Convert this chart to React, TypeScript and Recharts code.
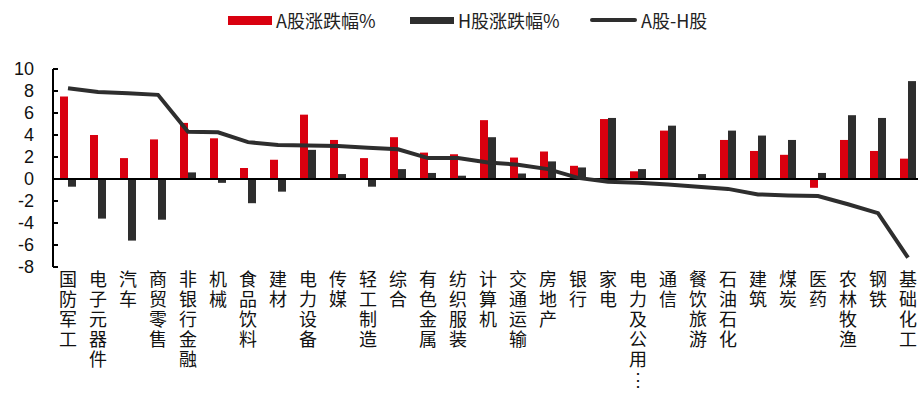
import React from 'react'
import { ComposedChart, Bar, Line, XAxis, YAxis, ReferenceLine } from 'recharts'

// ---------------------------------------------------------------------------
// Data
// ---------------------------------------------------------------------------

const categories = [
  '国防军工', '电子元器件', '汽车', '商贸零售', '非银行金融', '机械', '食品饮料', '建材',
  '电力设备', '传媒', '轻工制造', '综合', '有色金属', '纺织服装', '计算机', '交通运输',
  '房地产', '银行', '家电', '电力及公用…', '通信', '餐饮旅游', '石油石化', '建筑',
  '煤炭', '医药', '农林牧渔', '钢铁', '基础化工',
]

const aShareChange = [
  7.5, 4.0, 1.9, 3.6, 5.1, 3.7, 1.0, 1.75, 5.85, 3.55, 1.9, 3.8, 2.4, 2.25, 5.35,
  1.95, 2.5, 1.2, 5.45, 0.7, 4.4, 0, 3.55, 2.55, 2.2, -0.8, 3.55, 2.55, 1.85,
]

const hShareChange = [
  -0.7, -3.6, -5.6, -3.7, 0.6, -0.35, -2.2, -1.15, 2.65, 0.45, -0.7, 0.9, 0.55, 0.3, 3.8,
  0.5, 1.6, 1.05, 5.55, 0.9, 4.85, 0.45, 4.4, 3.95, 3.55, 0.55, 5.8, 5.55, 8.9,
]

const aMinusH = [
  8.25, 7.9, 7.8, 7.65, 4.3, 4.25, 3.35, 3.1, 3.05, 3.0, 2.85, 2.7, 1.9, 1.9, 1.5,
  1.3, 0.9, 0.1, -0.25, -0.35, -0.5, -0.7, -0.9, -1.4, -1.5, -1.55, -2.3, -3.1, -7.15,
]

const yTicks = [-8, -6, -4, -2, 0, 2, 4, 6, 8, 10]

const seriesNames = ['A股涨跌幅%', 'H股涨跌幅%', 'A股-H股']

const data = categories.map((name, i) => ({
  name,
  a: aShareChange[i],
  h: hShareChange[i],
  diff: aMinusH[i],
}))

// ---------------------------------------------------------------------------
// Styling
// ---------------------------------------------------------------------------

const RED = '#D9000F'
const DARK = '#2E2E2E'
const CJK = '"Noto Sans CJK SC", "Liberation Sans", sans-serif'
const LATIN = '"Liberation Sans", Arial, sans-serif'

// vertical category label: one character per line
function VerticalTick(props: any) {
  const { x, y, payload } = props
  const chars = Array.from(String(payload.value)).map((c) => (c === '…' ? '⋮' : c))
  return (
    <text x={x} y={y + 11} textAnchor="middle" fontSize={18} fontFamily={CJK} fill="#111">
      {chars.map((c, i) => (
        <tspan key={i} x={x} dy={i === 0 ? 0 : 20}>
          {c}
        </tspan>
      ))}
    </text>
  )
}

function LegendRow() {
  const item = (swatch: React.ReactNode, label: string, left: number) => (
    <div
      style={{
        position: 'absolute',
        left,
        top: 7,
        display: 'flex',
        alignItems: 'center',
        fontFamily: CJK,
        fontSize: 18,
        color: '#222',
        whiteSpace: 'nowrap',
      }}
    >
      {swatch}
      <span style={{ marginLeft: 4 }}>{label}</span>
    </div>
  )
  return (
    <>
      {item(<div style={{ width: 44, height: 9, background: RED }} />, seriesNames[0], 228)}
      {item(<div style={{ width: 44, height: 7, background: DARK }} />, seriesNames[1], 410)}
      {item(<div style={{ width: 47, height: 4, background: DARK, borderRadius: 2 }} />, seriesNames[2], 590)}
    </>
  )
}

export default function App() {
  return (
    <div
      style={{
        position: 'fixed',
        left: 0,
        top: 0,
        width: 918,
        height: 394,
        overflow: 'hidden',
        background: '#fff',
      }}
    >
      <LegendRow />
      <ComposedChart
        width={923}
        height={394}
        data={data}
        margin={{ top: 69, right: 0, left: 0, bottom: 0 }}
        barGap={0}
        barCategoryGap={0}
        style={{ position: 'absolute', left: 0, top: 0 }}
      >
        <XAxis
          dataKey="name"
          interval={0}
          axisLine={false}
          tickLine={false}
          tick={<VerticalTick />}
          height={127}
        />
        <YAxis
          domain={[-8, 10]}
          ticks={yTicks}
          interval={0}
          width={53}
          axisLine={{ stroke: '#000', strokeWidth: 2 }}
          tickLine={{ stroke: '#000', strokeWidth: 2 }}
          tickSize={-5}
          tickMargin={24}
          tick={{ fontSize: 18, fontFamily: LATIN, fill: '#111' }}
        />
        <ReferenceLine y={0} stroke="#000" strokeWidth={2} />
        <Bar dataKey="a" fill={RED} barSize={8} isAnimationActive={false} />
        <Bar dataKey="h" fill={DARK} barSize={8} isAnimationActive={false} />
        <Line
          dataKey="diff"
          type="linear"
          stroke={DARK}
          strokeWidth={4}
          dot={false}
          activeDot={false}
          isAnimationActive={false}
        />
      </ComposedChart>
    </div>
  )
}
